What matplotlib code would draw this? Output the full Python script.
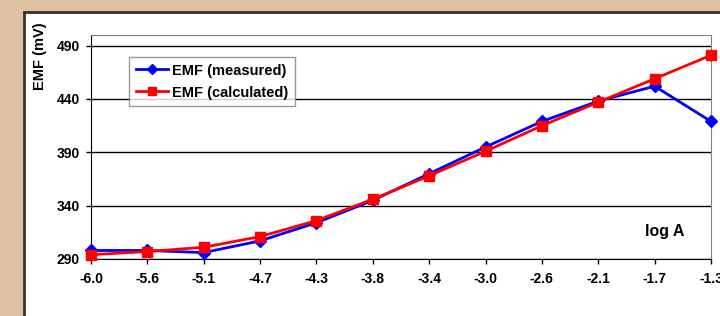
import matplotlib.pyplot as plt
from matplotlib.patches import Rectangle

# Data
log_a_labels = ["-6.0", "-5.6", "-5.1", "-4.7", "-4.3", "-3.8",
                "-3.4", "-3.0", "-2.6", "-2.1", "-1.7", "-1.3"]
emf_measured = [298, 298, 296, 307, 324, 345, 370, 395, 419, 438, 452, 419]
emf_calculated = [294, 297, 301, 311, 326, 346, 368, 391, 415, 437, 459, 481]

plt.rcParams["font.family"] = ["Liberation Sans", "DejaVu Sans"]
plt.rcParams["font.weight"] = "bold"

fig = plt.figure(figsize=(7.2, 3.16), dpi=100)
fig.patch.set_facecolor("#DFC1A3")

# white chart panel with dark edge
fig.patches.append(Rectangle((24 / 720, -0.1), 1.0, 1 - 12 / 316 + 0.1,
                             transform=fig.transFigure, facecolor="white",
                             edgecolor="#333333", linewidth=2, zorder=-10))

ax = fig.add_axes([91 / 720, 1 - 259 / 316, 620 / 720, 224 / 316])
x = list(range(len(log_a_labels)))

ax.plot(x, emf_measured, color="#0000FF", marker="D", markersize=6,
        linewidth=2, label="EMF (measured)", clip_on=False, zorder=3)
ax.plot(x, emf_calculated, color="#FF0000", marker="s", markersize=7,
        linewidth=2, label="EMF (calculated)", clip_on=False, zorder=4)

ax.set_xlim(0, 11)
ax.set_ylim(290, 500)
ax.set_yticks([290, 340, 390, 440, 490])
ax.set_xticks(x)
ax.set_xticklabels(log_a_labels)
ax.tick_params(axis="both", labelsize=10, length=3.5, width=1, direction="out",
               color="black")
ax.tick_params(axis="x", pad=6)
ax.tick_params(axis="y", pad=4.5)
ax.yaxis.grid(True, color="black", linewidth=1)
ax.set_axisbelow(True)

ax.spines["left"].set_color("black")
ax.spines["bottom"].set_color("black")
ax.spines["top"].set_color("#808080")
ax.spines["right"].set_color("#808080")

fig.text(40 / 720, 1 - 56 / 316, "EMF (mV)", rotation=90, ha="center",
         va="center", fontsize=10.5, fontweight="bold")
ax.text(10.17, 316, "log A", ha="center", va="center", fontsize=11.5,
        fontweight="bold")

leg = ax.legend(loc="upper left", bbox_to_anchor=(38 / 620, 1 - 22 / 224),
                fontsize=10.5, frameon=True, fancybox=False, borderpad=0.45,
                handlelength=2.2, handletextpad=0.3, labelspacing=0.55,
                borderaxespad=0, markerscale=0.8)
leg.get_frame().set_edgecolor("#808080")
leg.get_frame().set_linewidth(1)
for t in leg.get_texts():
    t.set_fontweight("bold")

fig.savefig("out.png", dpi=100, facecolor=fig.get_facecolor())
